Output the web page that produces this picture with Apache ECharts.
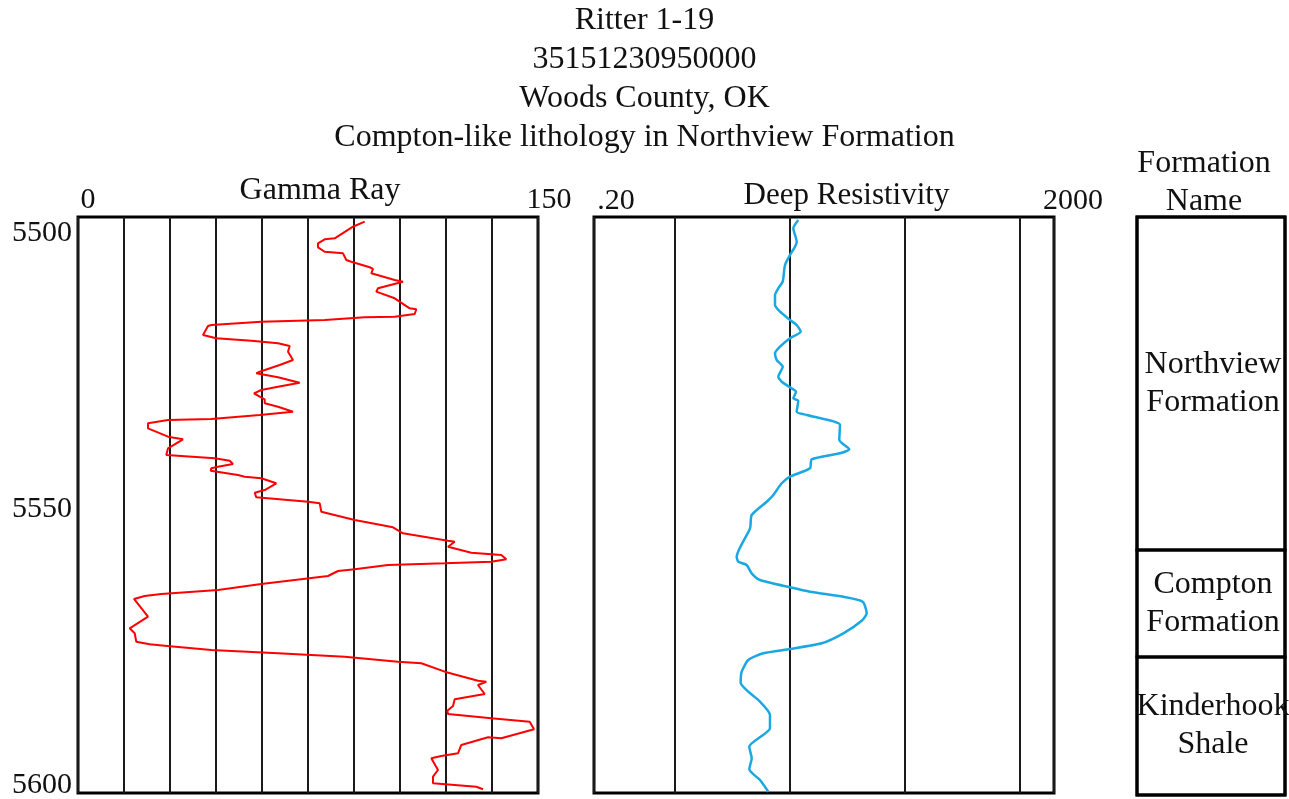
<!DOCTYPE html>
<html>
<head>
<meta charset="utf-8">
<script src="https://cdn.jsdelivr.net/npm/echarts@6/dist/echarts.min.js"></script>
<style>
html,body{margin:0;padding:0;background:#fff;}
#chart{width:1289px;height:799px;}
</style>
</head>
<body>
<div id="chart"></div>
<script>
// ---------- DATA ----------
const titleLines = ["Ritter 1-19", "35151230950000", "Woods County, OK", "Compton-like lithology in Northview Formation"];
const depthTicks = [5500, 5550, 5600];
const depthMin = 5497.1;
const depthMax = 5601.45;

const gammaDepth = [5497.95,5498.86,5500.96,5501.14,5501.87,5502.59,5503.39,5503.68,5504.89,5505.2,5506.2,5506.5,5507.3,5508.51,5508.82,5510.02,5510.63,5511.83,5513.64,5513.82,5514.67,5515.16,5515.27,5515.76,5516.07,5516.67,5516.85,5518.48,5519.08,5519.51,5519.98,5520.47,5521.5,5523.0,5523.91,5525.13,5525.42,5526.14,5527.12,5527.84,5528.44,5529.04,5529.66,5530.13,5530.85,5531.47,5532.37,5532.97,5533.7,5533.88,5534.47,5535.38,5536.9,5537.37,5539.0,5540.22,5540.82,5541.25,5541.85,5542.34,5542.63,5543.06,5543.84,5544.15,5544.44,5545.34,5546.56,5547.05,5547.88,5548.68,5548.97,5550.49,5551.99,5553.32,5554.4,5555.74,5555.92,5556.83,5557.92,5558.33,5559.11,5559.55,5559.84,5560.14,5560.92,5561.23,5562.14,5563.59,5564.67,5565.4,5565.76,5566.3,5569.51,5571.61,5572.52,5574.04,5574.51,5574.76,5575.54,5576.14,5576.76,5577.66,5577.95,5579.47,5581.1,5581.29,5581.88,5583.51,5584.47,5585.69,5586.54,5587.14,5587.92,5588.53,5589.91,5591.54,5591.36,5592.75,5594.26,5594.75,5595.16,5597.28,5598.5,5599.69,5600.31,5600.78];
const gammaValue = [93.49,89.67,83.71,80.45,78.26,78.26,80.45,86.41,87.49,89.12,95.12,96.2,95.64,103.27,105.98,97.83,97.27,103.27,108.16,110.32,109.79,103.27,93.49,80.45,59.77,43.47,42.39,40.76,45.1,56.51,65.22,69.03,68.48,70.11,65.77,59.25,58.14,65.22,72.29,65.22,59.77,57.39,59.25,60.88,60.88,65.22,70.11,59.25,43.47,29.35,22.83,22.83,29.35,34.24,29.35,28.79,44.58,49.47,50.54,45.65,43.47,43.27,52.17,54.36,59.77,64.66,60.88,57.62,58.14,75.0,78.82,79.34,90.23,102.72,105.98,120.65,122.84,120.65,128.25,138.04,139.66,134.77,119.58,101.09,90.23,84.78,81.52,59.77,45.65,27.16,21.75,18.26,22.83,16.86,18.49,19.01,23.38,28.27,43.47,65.22,86.97,104.35,111.95,119.58,130.43,133.14,130.43,132.62,122.84,122.28,120.42,120.65,134.77,147.29,148.7,138.04,133.7,124.99,123.91,118.47,115.21,117.39,115.76,115.76,129.88,132.07];

const resDepth = [5497.64,5499.15,5501.58,5502.48,5503.99,5505.8,5508.82,5510.02,5511.23,5513.04,5514.26,5515.76,5516.67,5517.88,5519.08,5520.6,5521.79,5523.01,5524.22,5526.03,5526.94,5528.13,5528.75,5529.95,5530.38,5532.37,5532.97,5534.78,5537.5,5539.18,5539.91,5541.0,5542.63,5544.15,5545.34,5547.46,5548.68,5551.09,5553.5,5558.64,5559.55,5560.14,5561.65,5562.86,5564.18,5564.98,5565.89,5566.79,5568.89,5570.24,5572.52,5574.33,5575.36,5576.14,5577.36,5579.47,5581.47,5583.1,5584.6,5587.32,5589.73,5593.06,5595.16,5597.16,5599.09,5601.21];
const resValue = [11.95,10.82,11.58,11.19,10.12,9.16,8.75,8.01,7.50,7.50,8.29,10.12,11.58,12.54,10.12,8.29,7.50,7.76,8.75,8.01,8.58,10.47,11.42,10.82,11.95,11.58,14.15,27.55,27.16,33.19,27.55,15.63,15.11,10.12,8.58,7.25,6.35,4.70,4.55,3.48,3.60,4.25,4.70,5.55,10.12,15.11,29.43,43.41,47.02,42.55,29.43,19.10,10.12,5.93,4.39,3.85,3.77,4.39,5.37,6.78,6.78,4.48,4.70,4.48,5.55,6.56];

const formationNames = ["Northview\nFormation", "Compton\nFormation", "Kinderhook\nShale"];
const formationTops = [5497.1, 5557.4, 5576.8];
const formationBases = [5557.4, 5576.8, 5601.8];

// ---------- CHART ----------
const FONT = "'Liberation Serif', 'Times New Roman', serif";
const gammaData = gammaDepth.map((d, i) => [gammaValue[i], d]);
const resData = resDepth.map((d, i) => [resValue[i], d]);
const formationData = formationTops.map((t, i) => [t, formationBases[i], i]);

const gridLine = { show: true, lineStyle: { color: '#1a1a1a', width: 2 } };
const chart = echarts.init(document.getElementById('chart'), null, { renderer: 'canvas' });

chart.setOption({
  animation: false,
  backgroundColor: '#ffffff',
  title: {
    text: titleLines.join('\n'),
    left: 'center',
    top: 1,
    padding: 0,
    textStyle: { fontFamily: FONT, fontSize: 32, fontWeight: 'normal', color: '#111', lineHeight: 39 }
  },
  grid: [
    { left: 78, top: 217, width: 460, height: 576, show: true, borderColor: '#000', borderWidth: 3, backgroundColor: 'transparent', outerBoundsMode: 'none', containLabel: false },
    { left: 594, top: 217, width: 460, height: 576, show: true, borderColor: '#000', borderWidth: 3, backgroundColor: 'transparent', outerBoundsMode: 'none', containLabel: false },
    { left: 1137, top: 217, width: 148, height: 578, show: true, borderColor: '#000', borderWidth: 3, backgroundColor: 'transparent', outerBoundsMode: 'none', containLabel: false }
  ],
  xAxis: [
    {
      gridIndex: 0, type: 'value', position: 'top', min: 0, max: 150, interval: 15,
      axisLine: { show: false }, axisTick: { show: false }, splitLine: gridLine,
      name: 'Gamma Ray', nameLocation: 'middle', nameGap: 10, nameMoveOverlap: false,
      nameTextStyle: { fontFamily: FONT, fontSize: 32, color: '#111', padding: [0, 0, 0, 24] },
      axisLabel: {
        interval: 0, margin: 2, showMinLabel: true, showMaxLabel: true,
        fontFamily: FONT, fontSize: 30, color: '#111',
        formatter: v => v === 0 ? '{a|0}' : (v === 150 ? '{b|150}' : ''),
        rich: {
          a: { fontFamily: FONT, fontSize: 30, color: '#111', padding: [0, 0, 0, 20] },
          b: { fontFamily: FONT, fontSize: 30, color: '#111', padding: [0, 0, 0, 22] }
        }
      }
    },
    {
      gridIndex: 1, type: 'log', logBase: 10, position: 'top', min: 0.2, max: 2000,
      axisLine: { show: false }, axisTick: { show: false }, splitLine: gridLine,
      minorTick: { show: false }, minorSplitLine: { show: false },
      name: 'Deep Resistivity', nameLocation: 'middle', nameGap: 6, nameMoveOverlap: false,
      nameTextStyle: { fontFamily: FONT, fontSize: 31, color: '#111', padding: [0, 0, 0, 45] },
      axisLabel: {
        interval: 0, margin: 1, showMinLabel: true, showMaxLabel: true,
        fontFamily: FONT, fontSize: 30, color: '#111',
        formatter: v => v < 0.5 ? '{a|.20}' : (v > 1500 ? '{b|2000}' : ''),
        rich: {
          a: { fontFamily: FONT, fontSize: 30, color: '#111', padding: [0, 0, 0, 44] },
          b: { fontFamily: FONT, fontSize: 30, color: '#111', padding: [0, 0, 0, 38] }
        }
      }
    },
    {
      gridIndex: 2, type: 'value', position: 'top', min: 0, max: 1,
      axisLine: { show: false }, axisTick: { show: false }, splitLine: { show: false },
      axisLabel: { show: false },
      name: 'Formation\nName', nameLocation: 'middle', nameGap: -4, nameMoveOverlap: false,
      nameTextStyle: { fontFamily: FONT, fontSize: 32, color: '#111', lineHeight: 38, padding: [0, 14, 0, 0] }
    }
  ],
  yAxis: [
    {
      gridIndex: 0, type: 'value', inverse: true, min: depthMin, max: depthMax,
      axisLine: { show: false }, axisTick: { show: false }, splitLine: { show: false },
      axisLabel: {
        customValues: depthTicks, margin: 6,
        formatter: v => String(v),
        fontFamily: FONT, fontSize: 30, color: '#111', padding: [4, 0, 0, 0]
      }
    },
    {
      gridIndex: 1, type: 'value', inverse: true, min: depthMin, max: depthMax,
      axisLine: { show: false }, axisTick: { show: false }, splitLine: { show: false },
      axisLabel: { show: false }
    },
    {
      gridIndex: 2, type: 'value', inverse: true, min: depthMin, max: 5601.8,
      axisLine: { show: false }, axisTick: { show: false }, splitLine: { show: false },
      axisLabel: { show: false }
    }
  ],
  series: [
    {
      type: 'line', xAxisIndex: 0, yAxisIndex: 0, data: gammaData,
      symbol: 'none', smooth: false, lineStyle: { color: '#ff0000', width: 2 }, z: 5
    },
    {
      type: 'line', xAxisIndex: 1, yAxisIndex: 1, data: resData,
      symbol: 'none', smooth: 0.2, lineStyle: { color: '#1aa8e2', width: 2.5 }, z: 5
    },
    {
      type: 'custom', xAxisIndex: 2, yAxisIndex: 2, data: formationData, clip: false,
      encode: { y: [0, 1] },
      renderItem: function (params, api) {
        const p0 = api.coord([0, api.value(0)]);
        const p1 = api.coord([1, api.value(1)]);
        const cx = (p0[0] + p1[0]) / 2;
        const cy = (p0[1] + p1[1]) / 2;
        return {
          type: 'group',
          children: [
            { type: 'rect', shape: { x: p0[0], y: p0[1], width: p1[0] - p0[0], height: p1[1] - p0[1] },
              style: { fill: 'transparent', stroke: '#000', lineWidth: 3 } },
            { type: 'text', style: { text: formationNames[params.dataIndex], x: cx + 2, y: cy,
              align: 'center', verticalAlign: 'middle', fontFamily: FONT, fontSize: 32, lineHeight: 38, fill: '#111' } }
          ]
        };
      }
    }
  ]
});
</script>
</body>
</html>
